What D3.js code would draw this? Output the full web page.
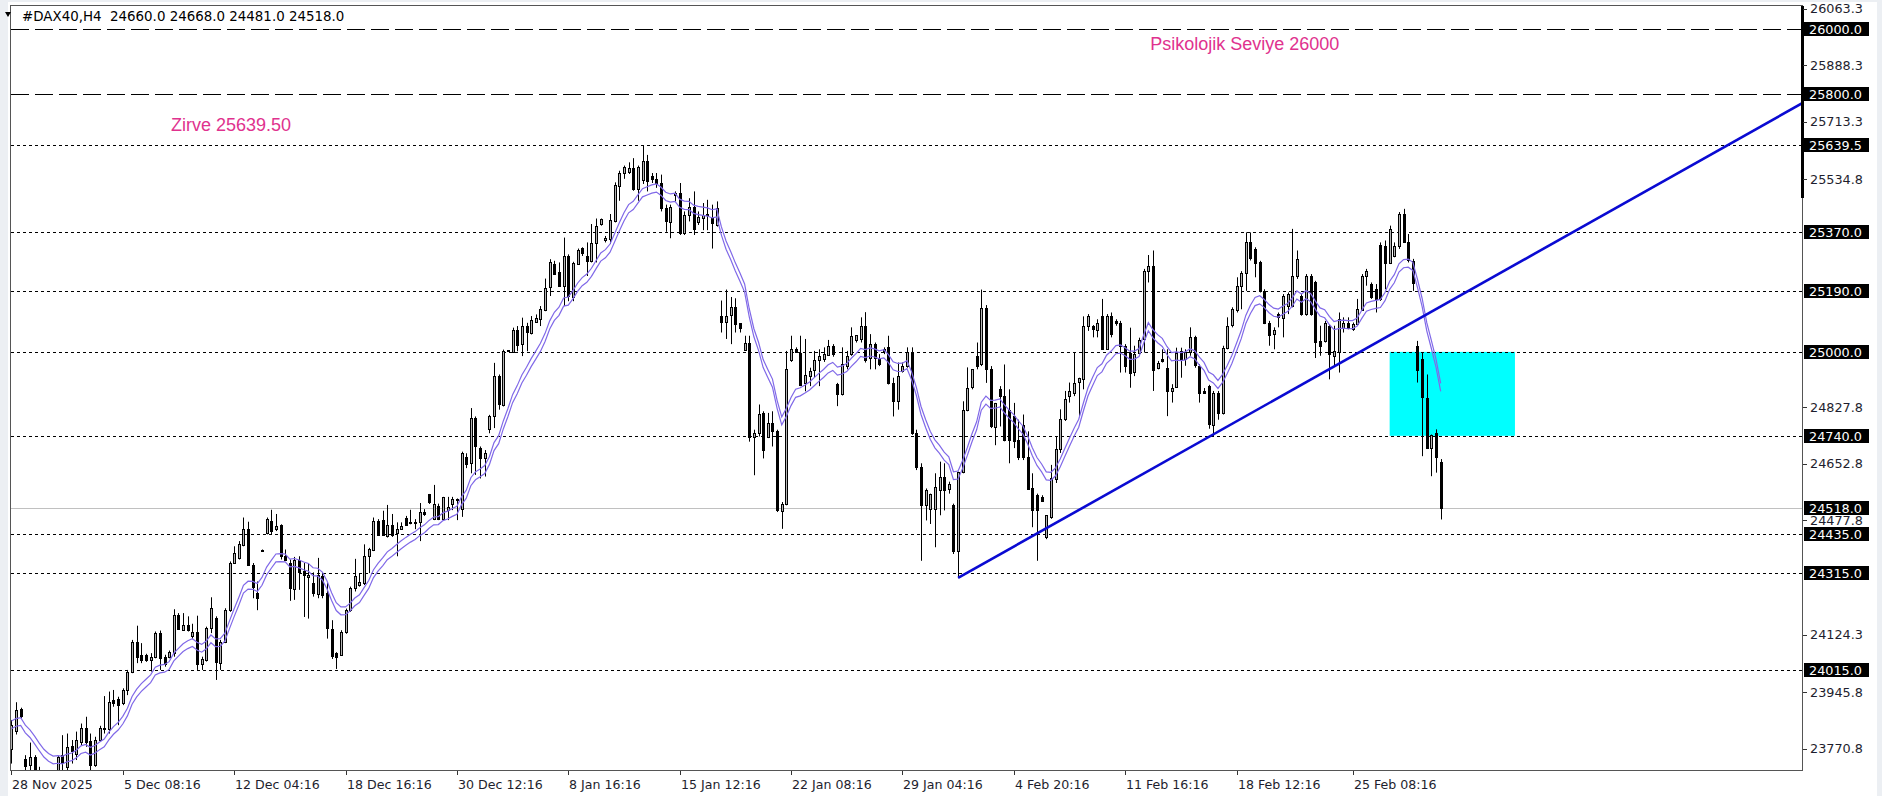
<!DOCTYPE html>
<html lang="tr">
<head>
<meta charset="UTF-8">
<title>#DAX40,H4</title>
<script src="https://d3js.org/d3.v7.min.js"></script>
<style>
  body { margin: 0; background: #eceff3; }
  svg { display: block; }
  text { font-family: "DejaVu Sans", Verdana, sans-serif; white-space: pre; }
</style>
</head>
<body>
<svg id="chart" width="1882" height="796"></svg>
<script>
// H4 bars, left to right
const opens = [
  23770,23825,23893,23738,23720,23746,23700,23670,23660,23680,23700,23751,23715,23779,23756,23793,23836,23795,23720,23798,23832,23834,23922,23926,23912,23953,24010,24103,24062,24060,24044,24056,24129,24054,24056,24067,24186,24139,24155,24118,24134,24031,24046,24144,24175,24039,24103,
  24200,24346,24362,24404,24453,24341,24252,24385,24438,24477,24451,24463,24369,24346,24268,24357,24320,24305,24284,24252,24307,24252,24143,24067,24062,24132,24200,24268,24276,24284,24367,24388,24477,24480,24430,24463,24438,24451,24487,24469,24470,24472,24503,24560,
  24485,24522,24482,24510,24526,24539,24515,24676,24655,24795,24702,24671,24759,24800,24924,24836,25002,25002,25069,25023,25080,25059,25095,25103,25132,25199,25273,25248,25204,25297,25168,25273,25322,25297,25282,25337,25396,25349,25349,25406,25515,25554,25558,25569,25505,
  25530,25590,25544,25534,25523,25445,25404,25487,25492,25367,25424,25450,25404,25414,25426,25414,25393,25112,25094,25112,25138,25089,25008,25029,24738,24748,24811,24738,24780,24754,24509,24530,24977,25008,24998,24904,24925,24944,24977,24977,24992,25019,24899,24868,
  24956,24993,25037,25040,25081,24982,25024,24977,25003,25014,24904,24847,24941,24956,25000,24748,24644,24525,24514,24514,24572,24613,24577,24525,24384,24629,24821,24889,24988,24962,25135,24946,24769,24884,24863,24821,24800,24728,24774,24676,24577,24556,24551,24426,24488,
  24605,24698,24791,24863,24874,24905,24918,25081,25079,25070,25110,25008,25112,25096,25089,25019,24998,24936,24998,25039,25251,25267,24951,24977,24951,24881,24894,25003,24979,25000,25045,24957,24880,24894,24775,24874,24812,25013,25081,25132,25205,25244,25339,25319,25277,
  25189,25091,25055,25117,25107,25143,25143,25236,25174,25117,25236,25215,25034,25034,25081,24988,24998,25076,25091,25072,25086,25132,25236,25210,25194,25331,25329,25277,25298,25329,25427,25339,25283,25019,24977,24858,24703,24750,24660
];
const highs = [
  23860,23915,23898,23751,23790,23751,23715,23700,23690,23705,23750,23813,23818,23798,23824,23849,23870,23818,23808,23842,23934,23948,23953,23932,23958,24015,24108,24152,24098,24065,24067,24134,24137,24062,24075,24203,24191,24191,24181,24158,24183,24056,24149,24240,24181,24108,24206,
  24351,24398,24414,24487,24474,24346,24289,24388,24487,24511,24498,24466,24388,24357,24365,24367,24346,24346,24317,24362,24315,24284,24169,24070,24138,24205,24273,24359,24315,24404,24393,24487,24482,24508,24526,24498,24472,24472,24492,24511,24482,24532,24513,24560,
  24588,24530,24551,24551,24551,24546,24691,24686,24826,24800,24707,24696,24805,24966,24930,25007,25005,25075,25080,25106,25090,25111,25116,25142,25227,25287,25282,25277,25354,25302,25279,25320,25324,25339,25396,25413,25413,25359,25427,25525,25561,25577,25587,25600,25577,
  25639.5,25610,25554,25554,25549,25456,25456,25497,25523,25435,25476,25497,25435,25461,25471,25456,25466,25159,25193,25170,25166,25089,25050,25050,24759,24837,24816,24811,24816,24759,24535,25003,25050,25014,25050,25040,24951,25003,25008,25014,25037,25024,24904,25014,
  25003,25076,25052,25107,25123,25055,25029,24993,25014,25050,24920,24967,24967,25014,25014,24759,24655,24577,24561,24624,24660,24655,24598,24530,24629,24847,24952,24946,25029,25193,25145,24956,24842,24894,24961,24884,24842,24790,24806,24754,24624,24561,24556,24494,24650,
  24739,24822,24879,24905,24998,24920,25110,25117,25083,25101,25164,25117,25122,25101,25096,25024,25075,25019,25044,25257,25300,25314,24972,25008,25008,24900,25013,25013,25008,25076,25050,24962,24888,24898,24879,24879,25019,25107,25138,25231,25250,25370,25370,25324,25282,
  25194,25096,25076,25122,25179,25184,25381,25314,25179,25241,25241,25220,25081,25096,25086,25081,25122,25107,25107,25091,25164,25241,25257,25215,25210,25339,25345,25391,25339,25433,25443,25365,25288,25034,24998,24930,24744,24760,24668
];
const lows = [
  23725,23815,23865,23699,23699,23690,23650,23630,23640,23660,23690,23699,23699,23725,23736,23782,23777,23699,23715,23793,23818,23818,23901,23844,23906,23937,24005,24036,24036,24040,24010,24051,24015,24025,24051,24056,24139,24137,24134,24110,24015,24015,24041,24129,23984,24015,24098,
  24195,24346,24357,24398,24341,24237,24200,24382,24435,24435,24445,24357,24357,24229,24232,24263,24179,24174,24242,24237,24237,24112,24049,24018,24059,24127,24195,24258,24273,24278,24315,24383,24430,24430,24425,24427,24367,24451,24461,24466,24451,24414,24492,24529,
  24479,24479,24479,24479,24510,24479,24489,24640,24624,24619,24608,24614,24748,24764,24821,24831,25000,24997,25002,24987,25002,25054,25090,25080,25126,25173,25240,25204,25142,25157,25157,25271,25297,25235,25277,25277,25391,25339,25334,25401,25468,25536,25551,25499,25468,
  25520,25497,25523,25508,25435,25372,25352,25466,25362,25362,25404,25362,25393,25377,25377,25320,25388,25060,25040,25024,25060,25060,25003,24722,24618,24738,24670,24733,24707,24504,24452,24525,24969,24998,24894,24878,24894,24920,24894,24969,24988,24985,24832,24865,
  24946,24988,25029,25029,24967,24946,24946,24956,24993,24899,24800,24821,24936,24951,24743,24634,24353,24478,24467,24395,24494,24509,24561,24374,24300,24624,24816,24884,24946,24956,24904,24764,24711,24769,24723,24655,24702,24665,24665,24577,24457,24353,24535,24420,24483,
  24594,24687,24786,24843,24863,24801,24884,25065,25045,25045,25008,25008,25045,25081,24936,24936,24889,24925,24993,24998,25215,24879,24946,24967,24801,24843,24889,24920,24957,24988,24951,24843,24872,24762,24739,24790,24806,25008,25076,25122,25132,25189,25283,25231,25184,
  25086,25019,25008,25076,25045,25117,25138,25226,25112,25112,25112,24981,24988,25029,24915,24957,24936,25060,25070,25065,25081,25127,25205,25164,25122,25158,25194,25272,25293,25319,25339,25277,25189,24905,24677,24703,24615,24626,24481
];
const closes = [
  23845,23890,23870,23715,23746,23700,23670,23660,23680,23695,23746,23725,23777,23762,23798,23836,23793,23720,23798,23834,23834,23917,23914,23906,23953,24010,24103,24056,24046,24043,24054,24129,24051,24031,24072,24186,24144,24155,24139,24131,24036,24048,24144,24206,24039,24103,24201,
  24346,24378,24404,24453,24341,24273,24237,24385,24482,24445,24461,24367,24357,24268,24357,24320,24307,24310,24252,24310,24247,24143,24059,24056,24132,24200,24268,24305,24286,24369,24388,24477,24435,24433,24463,24432,24451,24461,24466,24472,24472,24503,24497,24534,
  24530,24482,24551,24520,24543,24543,24688,24655,24795,24707,24671,24688,24800,24924,24836,25002,25005,25069,25023,25080,25061,25100,25106,25134,25199,25277,25243,25204,25297,25173,25274,25316,25305,25282,25337,25391,25411,25354,25409,25517,25554,25573,25569,25505,25572,
  25590,25528,25534,25523,25445,25404,25450,25492,25367,25424,25450,25383,25419,25424,25422,25398,25445,25094,25112,25138,25086,25073,25029,24738,24750,24808,24696,24780,24754,24509,24530,24948,25010,25000,24899,24928,24941,24975,24988,24993,25019,24993,24868,24962,
  24988,25050,25052,25081,24977,25024,24982,24962,25010,24904,24847,24925,24956,25000,24748,24644,24525,24572,24561,24582,24613,24572,24592,24384,24629,24821,24889,24946,24956,25135,24946,24769,24842,24863,24728,24728,24723,24676,24676,24577,24509,24509,24540,24494,24608,
  24698,24791,24853,24879,24905,24918,25081,25112,25070,25091,25008,25110,25055,25091,25019,24957,24936,24993,25037,25251,25267,24946,24965,24972,24879,24889,24998,24977,25000,25045,24957,24874,24874,24775,24874,24812,25013,25081,25132,25205,25244,25339,25288,25277,25189,
  25091,25055,25068,25107,25174,25179,25236,25288,25117,25234,25117,25029,25019,25091,24993,25003,25101,25091,25076,25086,25132,25236,25251,25169,25164,25164,25277,25381,25329,25427,25339,25283,25215,24946,24858,24703,24744,24677,24518
];

const dateLabels = ["28 Nov 2025", "5 Dec 08:16", "12 Dec 04:16", "18 Dec 16:16", "30 Dec 12:16", "8 Jan 16:16",
  "15 Jan 12:16", "22 Jan 08:16", "29 Jan 04:16", "4 Feb 20:16", "11 Feb 16:16", "18 Feb 12:16", "25 Feb 08:16"];
const dateLabelBars = [0, 24, 48, 72, 96, 120, 144, 168, 192, 216, 240, 264, 289];

const priceTicks = [26063.3, 25888.3, 25713.3, 25534.8, 24827.8, 24652.8, 24477.8, 24124.3, 23945.8, 23770.8];
const dashedLevels = [26000, 25800];
const dottedLevels = [25639.5, 25370, 25190, 25000, 24740, 24435, 24315, 24015];
const bidPrice = 24518;
const markedPrices = [26000, 25800, 25639.5, 25370, 25190, 25000, 24740, 24518, 24435, 24315, 24015];

const trendBars = [204, 386];
const trendPrices = [24300, 25771];
const zoneBars = [297, 324];
const zonePrices = [25000, 24740];

const noteTexts = ["Zirve 25639.50", "Psikolojik Seviye 26000"];
const noteBars = [34.4, 245.4];
const notePrices = [25684, 25935];

const header = "#DAX40,H4  24660.0 24668.0 24481.0 24518.0";

// layout
const plot = { left: 11, top: 6, right: 1803, bottom: 771 };
const svg = d3.select("#chart");
const n = Math.min(opens.length, highs.length, lows.length, closes.length);

const x = d3.scaleLinear().domain([0, n - 1]).range([11.4, 1440.7]);
const y = d3.scaleLinear().domain([23702, 26071.2]).range([plot.bottom, plot.top]);

svg.append("rect").attr("x", 8).attr("y", 2).attr("width", 1869).attr("height", 794).attr("fill", "#fff");

svg.append("clipPath").attr("id", "plotclip")
  .append("rect")
  .attr("x", plot.left).attr("y", plot.top)
  .attr("width", plot.right - plot.left).attr("height", plot.bottom - plot.top);

const g = svg.append("g").attr("clip-path", "url(#plotclip)");

// cyan zone (background object)
g.append("rect")
  .attr("x", x(zoneBars[0])).attr("y", y(zonePrices[0]))
  .attr("width", x(zoneBars[1]) - x(zoneBars[0]))
  .attr("height", y(zonePrices[1]) - y(zonePrices[0]))
  .attr("fill", "#00ffff");

const py = p => Math.round(y(p)) + 0.5;

g.selectAll(".dash").data(dashedLevels).join("line")
  .attr("x1", plot.left).attr("x2", plot.right)
  .attr("y1", py).attr("y2", py)
  .attr("stroke", "#000").attr("stroke-dasharray", "18,6");

g.selectAll(".dot").data(dottedLevels).join("line")
  .attr("x1", plot.left).attr("x2", plot.right)
  .attr("y1", py).attr("y2", py)
  .attr("stroke", "#000").attr("stroke-dasharray", "3,3");

g.append("line")
  .attr("x1", plot.left).attr("x2", plot.right)
  .attr("y1", py(bidPrice)).attr("y2", py(bidPrice))
  .attr("stroke", "#c0c0c0");

// candles
const bars = d3.range(n).map(i => ({ i, o: opens[i], h: highs[i], l: lows[i], c: closes[i] }));
const cx = d => Math.round(x(d.i));

g.selectAll(".wick").data(bars).join("line")
  .attr("x1", d => cx(d) + 0.5).attr("x2", d => cx(d) + 0.5)
  .attr("y1", d => y(Math.max(d.h, d.o, d.c)))
  .attr("y2", d => y(Math.min(d.l, d.o, d.c)))
  .attr("stroke", "#000");

g.selectAll(".body").data(bars).join("rect")
  .attr("x", d => cx(d) - 0.5)
  .attr("width", 2)
  .attr("y", d => Math.round(y(Math.max(d.o, d.c))) + 0.5)
  .attr("height", d => Math.max(1, Math.round(Math.abs(y(d.o) - y(d.c)))))
  .attr("fill", d => d.c >= d.o ? "#b4b4b4" : "#000")
  .attr("stroke", "#000");

// envelope around a moving average of the closes
const maPeriod = 11, envDev = 0.0005;
const k = 2 / (maPeriod + 1);
const ma = [];
closes.slice(0, n).forEach((c, i) => ma.push(i === 0 ? c : ma[i - 1] + (c - ma[i - 1]) * k));
[1 + envDev, 1 - envDev].forEach(f => {
  g.append("path")
    .datum(ma)
    .attr("fill", "none")
    .attr("stroke", "#8069e8")
    .attr("stroke-width", 1.2)
    .attr("d", d3.line().x((d, i) => x(i)).y(d => y(d * f)));
});

// trend line (ray)
g.append("line")
  .attr("x1", x(trendBars[0])).attr("y1", y(trendPrices[0]))
  .attr("x2", x(trendBars[1])).attr("y2", y(trendPrices[1]))
  .attr("stroke", "#0a0ad2").attr("stroke-width", 2.6);

// notes
g.selectAll(".note").data(noteTexts).join("text")
  .attr("x", (d, i) => x(noteBars[i]))
  .attr("y", (d, i) => y(notePrices[i]))
  .attr("fill", "#e0328e")
  .style("font-family", "'Liberation Sans', Arial, sans-serif")
  .style("font-size", "18px")
  .text(d => d);

// frame
svg.append("rect")
  .attr("x", plot.left - 0.5).attr("y", plot.top - 0.5)
  .attr("width", plot.right - plot.left).attr("height", plot.bottom - plot.top)
  .attr("fill", "none").attr("stroke", "#555");
svg.append("rect").attr("x", plot.right - 2).attr("y", plot.top).attr("width", 3).attr("height", 192).attr("fill", "#000");

// price axis
const ax = svg.append("g");
ax.selectAll(".tick").data(priceTicks).join("line")
  .attr("x1", plot.right).attr("x2", plot.right + 4)
  .attr("y1", py).attr("y2", py).attr("stroke", "#333");
ax.selectAll(".tl").data(priceTicks).join("text")
  .attr("x", plot.right + 7).attr("y", d => y(d) + 4.5)
  .attr("fill", "#1e1e2e").style("font-size", "12.8px")
  .text(d => d.toFixed(1));
ax.selectAll(".mbox").data(markedPrices).join("rect")
  .attr("x", plot.right + 1).attr("y", d => Math.round(y(d)) - 7)
  .attr("width", 65).attr("height", 14).attr("fill", "#000");
ax.selectAll(".mtext").data(markedPrices).join("text")
  .attr("x", plot.right + 6).attr("y", d => Math.round(y(d)) + 4.5)
  .attr("fill", "#fff").style("font-size", "12.8px")
  .text(d => d.toFixed(1));

// time axis
const tx = svg.append("g");
tx.selectAll("line").data(dateLabelBars).join("line")
  .attr("x1", d => Math.round(x(d)) + 0.5).attr("x2", d => Math.round(x(d)) + 0.5)
  .attr("y1", plot.bottom).attr("y2", plot.bottom + 4).attr("stroke", "#333");
tx.selectAll("text").data(dateLabels).join("text")
  .attr("x", (d, i) => Math.round(x(dateLabelBars[i])) + 1)
  .attr("y", 789)
  .attr("fill", "#1e1e2e").style("font-size", "12.6px")
  .text(d => d);

// header
svg.append("path").attr("d", "M5,12 L11,12 L8,17 Z").attr("fill", "#000");
svg.append("text").attr("x", 22).attr("y", 21)
  .attr("fill", "#000").style("font-size", "13.4px")
  .text(header);
</script>
</body>
</html>
